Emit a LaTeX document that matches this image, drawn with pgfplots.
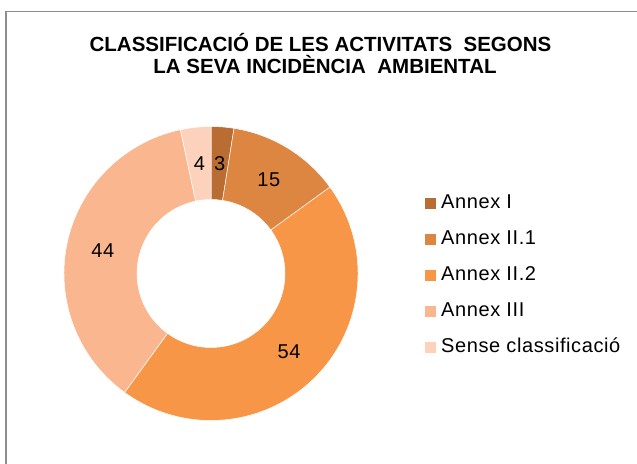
\documentclass[border=0pt]{standalone}
\usepackage{fontspec}
\setmainfont{Liberation Sans}
\newfontfamily\lblfam[LetterSpace=3]{Liberation Sans}
\usepackage{pgfplots}
\usepackage{pgfplotstable}
\pgfplotsset{compat=1.18}

\definecolor{slice0}{HTML}{BA6D33}
\definecolor{slice1}{HTML}{DD8642}
\definecolor{slice2}{HTML}{F79646}
\definecolor{slice3}{HTML}{F9B68F}
\definecolor{slice4}{HTML}{FCD2BD}
\definecolor{framegray}{HTML}{8E8E8E}

\pgfplotstableread[col sep=comma]{
label,value
Annex I,3
Annex II.1,15
Annex II.2,54
Annex III,44
Sense classificació,4
}\donutdata

\newcommand\lblfont{\lblfam\fontsize{20bp}{23bp}\selectfont}
\newcommand\ttlfont{\fontsize{20.5bp}{22bp}\selectfont\bfseries}
\newcommand\SA[1]{\csname sa#1\endcsname}
\newcommand\EA[1]{\csname ea#1\endcsname}
\newcommand\MA[1]{\csname ma#1\endcsname}
\newcommand\VAL[1]{\csname val#1\endcsname}

\begin{document}
\begin{tikzpicture}
\useasboundingbox (0,0) rectangle (637bp,464bp);
% totals and angles from the table
\def\total{0}
\pgfplotsforeachungrouped \i in {0,...,4}{%
  \pgfplotstablegetelem{\i}{value}\of\donutdata
  \pgfmathsetmacro\total{\total+\pgfplotsretval}%
}
\def\cum{0}
\pgfplotsforeachungrouped \i in {0,...,4}{%
  \pgfplotstablegetelem{\i}{value}\of\donutdata
  \let\myval\pgfplotsretval
  \pgfmathsetmacro\mysa{90-360/\total*\cum}%
  \pgfmathsetmacro\cum{\cum+\myval}%
  \pgfmathsetmacro\myea{90-360/\total*\cum}%
  \pgfmathsetmacro\myma{(\mysa+\myea)/2}%
  \expandafter\let\csname sa\i\endcsname\mysa
  \expandafter\let\csname ea\i\endcsname\myea
  \expandafter\let\csname ma\i\endcsname\myma
  \expandafter\let\csname val\i\endcsname\myval
}
\begin{axis}[
  x=1bp, y=1bp,
  xmin=-211, xmax=426, ymin=-190.5, ymax=273.5,
  hide axis, clip=false,
  at={(211bp,190.5bp)}, anchor=origin,
  legend image code/.code={\fill[#1] (0bp,-5.5bp) rectangle (11bp,5.5bp);},
  legend cell align=left,
  legend style={at={(axis cs:214,79)}, anchor=north west, draw=none, fill=none,
    inner sep=0pt, row sep=18bp, column sep=5bp, font=\lblfont,
    nodes={inner sep=0pt, text height=14bp, text depth=4bp}},
]
\addlegendimage{fill=slice0, draw=none}\addlegendentry{Annex I}
\addlegendimage{fill=slice1, draw=none}\addlegendentry{Annex II.1}
\addlegendimage{fill=slice2, draw=none}\addlegendentry{Annex II.2}
\addlegendimage{fill=slice3, draw=none}\addlegendentry{Annex III}
\addlegendimage{fill=slice4, draw=none}\addlegendentry{Sense classificació}

\pgfplotsinvokeforeach{0,...,4}{%
  \fill[fill=slice#1, draw=white, line width=0.5bp]
    (axis cs:0,0) ++(\SA{#1}:147bp)
    arc[start angle=\SA{#1}, end angle=\EA{#1}, radius=147bp]
    -- ++(\EA{#1}:-73bp)
    arc[start angle=\EA{#1}, end angle=\SA{#1}, radius=74bp] -- cycle;
}
\pgfplotsinvokeforeach{0,...,4}{%
  \path (axis cs:0,0) ++(\MA{#1}:110.5bp) node[font=\lblfont, inner sep=0pt] {\VAL{#1}};
}
% frame
\draw[framegray, line width=1.5bp] (axis cs:-205,-190.5) -- (axis cs:-205,262) -- (axis cs:426,262);
% title
\node[font=\ttlfont, anchor=base, inner sep=0pt] at (axis cs:109.5,221.5) {CLASSIFICACIÓ DE LES ACTIVITATS\ \ SEGONS};
\node[font=\ttlfont, anchor=base, inner sep=0pt] at (axis cs:114,199.5) {LA SEVA INCIDÈNCIA\ \ AMBIENTAL};
\end{axis}
\end{tikzpicture}
\end{document}
